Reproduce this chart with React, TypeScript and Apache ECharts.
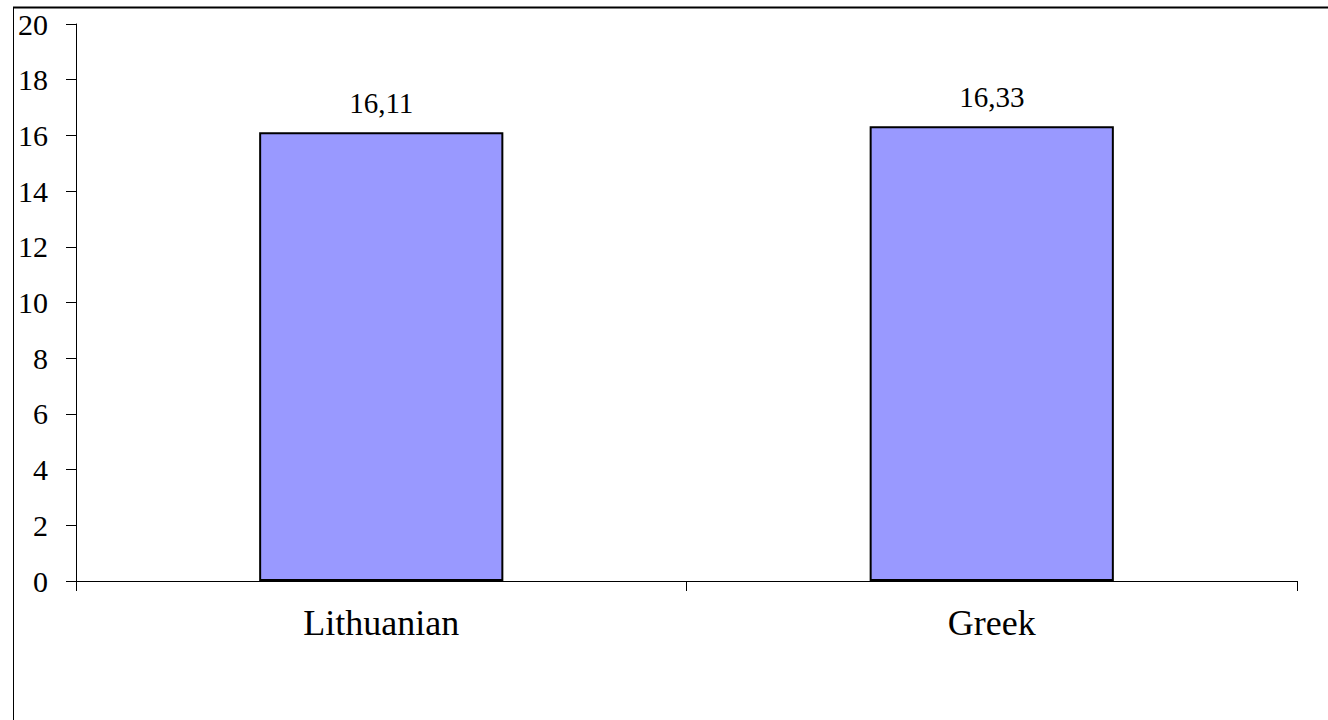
import React, { useEffect, useRef } from "react";
import * as echarts from "echarts";

const categories = ["Lithuanian", "Greek"];
const values = [16.11, 16.33];
const valueLabels = ["16,11", "16,33"];
const yMin = 0;
const yMax = 20;
const yInterval = 2;

export default function App() {
  const ref = useRef<HTMLDivElement>(null);
  useEffect(() => {
    if (!ref.current) return;
    const chart = echarts.init(ref.current, undefined, { renderer: "svg" });
    const font = "'Liberation Serif', 'Times New Roman', serif";
    chart.setOption({
      animation: false,
      backgroundColor: "#ffffff",
      textStyle: { fontFamily: font },
      grid: { left: 76, right: 31, top: 24, bottom: 139, containLabel: false },
      graphic: [
        {
          type: "line",
          shape: { x1: 13.5, y1: 7.5, x2: 13.5, y2: 800 },
          style: { stroke: "#000", lineWidth: 1 },
          silent: true,
        },
        {
          type: "line",
          shape: { x1: 13, y1: 7.5, x2: 1400, y2: 7.5 },
          style: { stroke: "#000", lineWidth: 2 },
          silent: true,
        },
      ],
      xAxis: {
        type: "category",
        data: categories,
        axisLine: { show: true, lineStyle: { color: "#000", width: 1 } },
        axisTick: { show: true, length: 10, lineStyle: { color: "#000" } },
        axisLabel: {
          color: "#000",
          fontFamily: font,
          fontSize: 36,
          margin: 24,
        },
        splitLine: { show: false },
      },
      yAxis: {
        type: "value",
        min: yMin,
        max: yMax,
        interval: yInterval,
        axisLine: { show: true, lineStyle: { color: "#000", width: 1 } },
        axisTick: { show: true, length: 10, lineStyle: { color: "#000" } },
        axisLabel: {
          color: "#000",
          fontFamily: font,
          fontSize: 30,
          margin: 28,
        },
        splitLine: { show: false },
      },
      series: [
        {
          type: "bar",
          data: values,
          barWidth: "40%",
          itemStyle: { color: "#9999ff", borderColor: "#000", borderWidth: 2 },
          label: {
            show: true,
            position: "top",
            distance: 15,
            color: "#000",
            fontFamily: font,
            fontSize: 29,
            formatter: (p: any) => valueLabels[p.dataIndex],
          },
        },
      ],
    });
    return () => chart.dispose();
  }, []);
  return (
    <div
      ref={ref}
      style={{ position: "absolute", left: 0, top: 0, width: 1328, height: 720 }}
    />
  );
}
